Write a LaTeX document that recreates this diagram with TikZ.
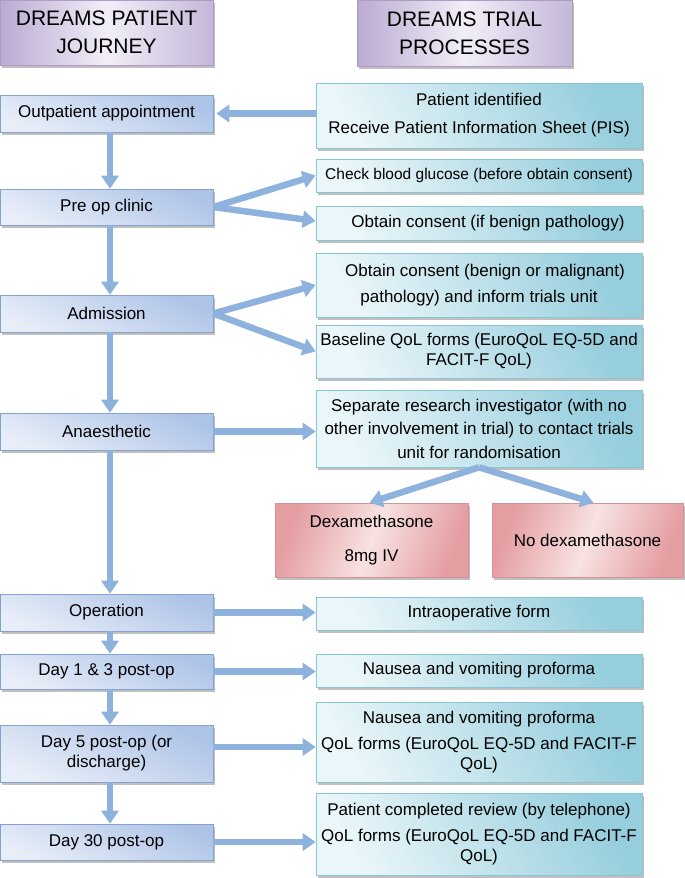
\documentclass[tikz,border=0pt]{standalone}
\usepackage{fontspec}
\setmainfont{Liberation Sans}
\usetikzlibrary{arrows.meta,shadows}
\definecolor{arr}{RGB}{142,178,222}
\definecolor{ltop}{RGB}{174,196,231}
\definecolor{lbot}{RGB}{232,238,248}
\definecolor{lbord}{RGB}{132,162,206}
\definecolor{ctop}{RGB}{150,206,221}
\definecolor{cbot}{RGB}{234,246,249}
\definecolor{cbord}{RGB}{136,198,214}
\definecolor{rside}{RGB}{228,158,162}
\definecolor{rmid}{RGB}{248,226,226}
\definecolor{rbord}{RGB}{214,146,148}
\definecolor{pside}{RGB}{186,170,210}
\definecolor{pmid}{RGB}{242,238,247}
\definecolor{pbord}{RGB}{172,156,198}
\begin{document}
\begin{tikzpicture}[x=1pt,y=-1pt,
  boxbase/.style={draw, line width=0.6pt, inner sep=0pt, align=center,
    font=\fontsize{17}{20}\selectfont,
    drop shadow={shadow xshift=2pt,shadow yshift=-3pt,fill=black!55,opacity=0.45}},
  lbox/.style={boxbase, draw=lbord, top color=ltop, bottom color=lbot, shading angle=-25,
    minimum width=213pt},
  cbox/.style={boxbase, draw=cbord, top color=ctop, bottom color=cbot, shading angle=-60,
    minimum width=326pt},
  rbox/.style={boxbase, draw=rbord, left color=rside, right color=rside, middle color=rmid,
    shading angle=70, minimum height=74pt},
  pbox/.style={boxbase, draw=pbord, left color=pside, right color=pside!85, middle color=pmid,
    font=\fontsize{21}{28}\selectfont},
  flow/.style={-{Triangle[length=13pt,width=17pt]}, line width=6.5pt, draw=arr},
]
\useasboundingbox (0,0) rectangle (685,878);

% headers
\node[pbox, minimum width=213pt, minimum height=65pt] (h1) at (106.5,32.5) {DREAMS PATIENT\\JOURNEY};
\node[pbox, minimum width=215pt, minimum height=66pt] (h2) at (464.5,33) {DREAMS TRIAL\\PROCESSES};

% left column
\node[lbox, minimum height=37pt] (out) at (106.5,113.5) {Outpatient appointment};
\node[lbox, minimum height=36pt] (pre) at (106.5,207) {Pre op clinic};
\node[lbox, minimum height=37pt] (adm) at (106.5,313.5) {Admission};
\node[lbox, minimum height=37pt] (ana) at (106.5,431.5) {Anaesthetic};
\node[lbox, minimum height=37pt] (op) at (106.5,612.5) {Operation};
\node[lbox, minimum height=35pt] (d13) at (106.5,671.5) {Day 1 \& 3 post-op};
\node[lbox, minimum height=57pt] (d5) at (106.5,753.5) {Day 5 post-op (or\\discharge)};
\node[lbox, minimum height=36pt] (d30) at (106.5,842) {Day 30 post-op};

% right column
\node[cbox, minimum height=65pt] (pis) at (479,115.5) {Patient identified\\[8pt]Receive Patient Information Sheet (PIS)};
\node[cbox, minimum height=33pt, font=\fontsize{15.5}{19}\selectfont] (chk) at (479,175.5) {Check blood glucose (before obtain consent)};
\node[cbox, minimum height=34pt] (oc1) at (479,223) {\hspace*{18pt}Obtain consent (if benign pathology)};
\node[cbox, minimum height=64pt] (oc2) at (479,285) {\hspace*{12pt}Obtain consent (benign or malignant)\\[6pt]pathology) and inform trials unit};
\node[cbox, minimum height=53pt] (bas) at (479,351.5) {Baseline QoL forms (EuroQoL EQ-5D and\\FACIT-F QoL)};
\node[cbox, minimum height=77pt] (sep) at (479,428.5) {Separate research investigator (with no\\[3.5pt]other involvement in trial) to contact trials\\[3.5pt]unit for randomisation};
\node[cbox, minimum height=33pt] (intra) at (479,613.5) {Intraoperative form};
\node[cbox, minimum height=33pt] (naus) at (479,670.5) {Nausea and vomiting proforma};
\node[cbox, minimum height=80pt] (naus2) at (479,742) {Nausea and vomiting proforma\\[6pt]QoL forms (EuroQoL EQ-5D and FACIT-F\\QoL)};
\node[cbox, minimum height=82pt] (rev) at (479,834) {Patient completed review (by telephone)\\[6pt]QoL forms (EuroQoL EQ-5D and FACIT-F\\QoL)};

% randomisation arms
\node[rbox, minimum width=193pt] (dex) at (371.5,540) {Dexamethasone\\[14pt]8mg IV};
\node[rbox, minimum width=191pt] (nodex) at (587.5,540) {No dexamethasone};

% vertical flow
\draw[flow] ([xshift=3.5pt]out.south) -- ([xshift=3.5pt]pre.north);
\draw[flow] ([xshift=3.5pt]pre.south) -- ([xshift=3.5pt]adm.north);
\draw[flow] ([xshift=3.5pt]adm.south) -- ([xshift=3.5pt]ana.north);
\draw[flow] ([xshift=3.5pt]ana.south) -- ([xshift=3.5pt]op.north);
\draw[flow] ([xshift=3.5pt]op.south) -- ([xshift=3.5pt]d13.north);
\draw[flow] ([xshift=3.5pt]d13.south) -- ([xshift=3.5pt]d5.north);
\draw[flow] ([xshift=3.5pt]d5.south) -- ([xshift=3.5pt]d30.north);

% horizontal / diagonal flow
\coordinate (t0) at ([xshift=3pt]out.east);
\draw[flow] (pis.west |- t0) -- (t0);
\draw[flow] (pre.east) -- (chk.west);
\draw[flow] (pre.east) -- ([yshift=2pt]oc1.west);
\draw[flow] (adm.east) -- (oc2.west);
\draw[flow] (adm.east) -- (bas.west);
\draw[flow] (ana.east) -- (ana.east -| sep.west);
\draw[flow] (sep.south) -- ([xshift=-2pt]dex.north);
\draw[flow] (sep.south) -- ([xshift=6pt]nodex.north);
\draw[flow] (op.east) -- (op.east -| intra.west);
\draw[flow] (d13.east) -- (d13.east -| naus.west);
\coordinate (t5) at ([yshift=-5pt]naus2.west);
\draw[flow] (d5.east |- t5) -- (t5);
\draw[flow] (d30.east) -- (d30.east -| rev.west);
\end{tikzpicture}
\end{document}
